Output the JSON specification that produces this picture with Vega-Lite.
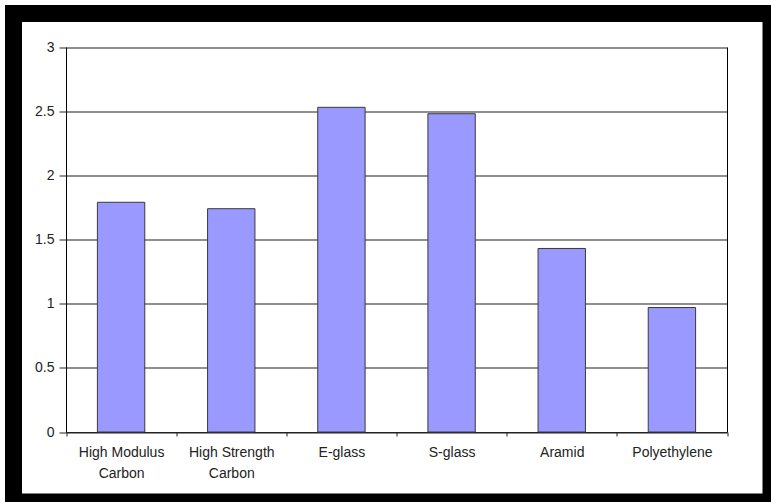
{
  "$schema": "https://vega.github.io/schema/vega-lite/v6.json",
  "autosize": {"type": "none"},
  "padding": {"left": 13.5, "top": 13.5, "right": 0, "bottom": 0},
  "width": 757.5,
  "height": 488.5,
  "background": "white",
  "config": {
    "view": {"stroke": "black", "strokeWidth": 17, "fill": "white"},
    "font": "Liberation Sans"
  },
  "data": {
    "values": [
      {"fiber": "High Modulus Carbon", "value": 1.79},
      {"fiber": "High Strength Carbon", "value": 1.74},
      {"fiber": "E-glass", "value": 2.53},
      {"fiber": "S-glass", "value": 2.48},
      {"fiber": "Aramid", "value": 1.43},
      {"fiber": "Polyethylene", "value": 0.97}
    ]
  },
  "encoding": {
    "x": {
      "field": "fiber",
      "type": "nominal",
      "sort": null,
      "scale": {"range": [52.5, 713.5], "paddingInner": 0, "paddingOuter": 0},
      "axis": {
        "title": null,
        "labelAngle": 0,
        "labelFont": "Liberation Sans",
        "labelFontSize": 14,
        "labelColor": "#222222",
        "labelPadding": 9,
        "labelLineHeight": 21,
        "labelBaseline": "top",
        "labelOverlap": false,
        "labelFlush": false,
        "labelExpr": "datum.label == 'High Modulus Carbon' ? ['High Modulus', 'Carbon'] : datum.label == 'High Strength Carbon' ? ['High Strength', 'Carbon'] : datum.label",
        "tickBand": "extent",
        "tickSize": 4,
        "tickColor": "#222222",
        "domainColor": "#222222",
        "domainWidth": 1,
        "grid": false,
        "offset": -70
      }
    }
  },
  "layer": [
    {
      "mark": {"type": "bar", "fill": "#9999FF", "stroke": "#3a3a3a", "strokeWidth": 1, "width": {"band": 0.43}},
      "encoding": {
        "y": {
          "field": "value",
          "type": "quantitative",
          "scale": {"domain": [0, 3], "range": [418.5, 33.5], "nice": false, "zero": true},
          "axis": {
            "title": null,
            "values": [0, 0.5, 1, 1.5, 2, 2.5, 3],
            "format": "~g",
            "labelFont": "Liberation Sans",
            "labelFontSize": 14,
            "labelColor": "#222222",
            "labelPadding": 5,
            "tickSize": 7,
            "tickColor": "#222222",
            "domainColor": "black",
            "domainWidth": 1,
            "grid": true,
            "gridColor": "#6a6a6a",
            "gridWidth": 1.3,
            "offset": -52.5
          }
        }
      }
    },
    {
      "mark": {"type": "bar", "opacity": 0, "width": {"band": 0.43}},
      "encoding": {
        "y": {
          "field": "value",
          "type": "quantitative",
          "axis": {
            "orient": "right",
            "title": null,
            "labels": false,
            "ticks": false,
            "grid": false,
            "domainColor": "black",
            "domainWidth": 1,
            "offset": -44
          }
        }
      }
    }
  ],
  "resolve": {"axis": {"y": "independent"}}
}
